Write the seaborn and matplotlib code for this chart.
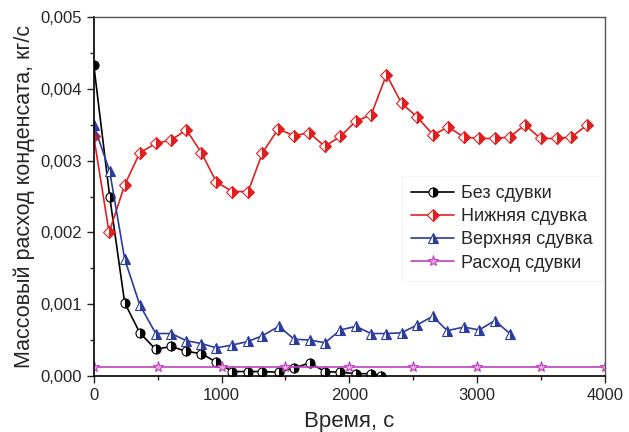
import matplotlib
matplotlib.use("Agg")
import matplotlib.pyplot as plt
import matplotlib.ticker as mticker
import seaborn as sns
import pandas as pd

# time points (s)
t_red = [0, 120, 242, 360, 485, 607, 725, 843, 960, 1085, 1208, 1320, 1442, 1568, 1685,
         1808, 1930, 2050, 2170, 2290, 2408, 2530, 2655, 2773, 2895, 3015, 3137, 3255,
         3373, 3495, 3620, 3737, 3860]
v_red = [3.34, 2.00, 2.66, 3.11, 3.24, 3.29, 3.43, 3.11, 2.70, 2.57, 2.57, 3.11, 3.44, 3.35,
         3.39, 3.20, 3.34, 3.55, 3.64, 4.20, 3.80, 3.61, 3.36, 3.47, 3.33, 3.31, 3.31, 3.33,
         3.50, 3.31, 3.31, 3.33, 3.50]

t_black = [0, 125, 242, 360, 485, 607, 725, 843, 960, 1085, 1208, 1320, 1448, 1568, 1690,
           1808, 1930, 2050, 2170, 2250]
v_black = [4.34, 2.50, 1.02, 0.60, 0.37, 0.41, 0.34, 0.31, 0.19, 0.06, 0.06, 0.06, 0.05, 0.11,
           0.18, 0.06, 0.05, 0.03, 0.03, 0.00]

t_blue = [0, 125, 242, 360, 485, 607, 725, 843, 960, 1085, 1208, 1320, 1448, 1568, 1690,
          1808, 1930, 2050, 2170, 2290, 2408, 2530, 2650, 2765, 2895, 3015, 3137, 3255]
v_blue = [3.50, 2.85, 1.63, 0.99, 0.59, 0.59, 0.49, 0.45, 0.39, 0.43, 0.48, 0.56, 0.69, 0.51,
          0.50, 0.46, 0.64, 0.69, 0.59, 0.59, 0.60, 0.71, 0.83, 0.63, 0.68, 0.64, 0.77, 0.59]

t_mag = [0, 500, 1000, 1500, 2000, 2500, 3000, 3500, 4000]
v_mag = [0.12, 0.12, 0.12, 0.12, 0.12, 0.12, 0.12, 0.12, 0.12]

sns.set_style("ticks")
plt.rcParams['font.family'] = ['Liberation Sans', 'DejaVu Sans']

fig = plt.figure(figsize=(6.29, 4.32), dpi=100)
ax = fig.add_axes([0.149, 0.130, 0.813, 0.830])

series = [
    ("Без сдувки", t_black, v_black, dict(color="black", marker="o", markersize=6.5,
                                           fillstyle="right", markerfacecoloralt="white",
                                           markeredgecolor="black")),
    ("Нижняя сдувка", t_red, v_red, dict(color="#e02020", marker="D", markersize=6.5,
                                         fillstyle="right", markerfacecoloralt="white",
                                         markeredgecolor="#e02020")),
    ("Верхняя сдувка", t_blue, v_blue, dict(color="#2b3c9e", marker="^", markersize=7,
                                            fillstyle="right", markerfacecoloralt="white",
                                            markeredgecolor="#2b3c9e")),
    ("Расход сдувки", t_mag, v_mag, dict(color="#c040c0", marker="*", markersize=8,
                                         markerfacecolor="#e8a8e8",
                                         markeredgecolor="#c040c0")),
]

for name, t, v, style in series:
    df = pd.DataFrame({"t": t, "v": [x / 1000 for x in v]})
    sns.lineplot(data=df, x="t", y="v", ax=ax, label=name, linewidth=1.2,
                 markeredgewidth=0.8, **style)

ax.set_xlim(0, 4000)
ax.set_ylim(0, 0.005)
ax.xaxis.set_major_locator(mticker.MultipleLocator(1000))
ax.xaxis.set_minor_locator(mticker.MultipleLocator(500))
ax.yaxis.set_major_locator(mticker.MultipleLocator(0.001))
ax.yaxis.set_minor_locator(mticker.MultipleLocator(0.0005))
ax.yaxis.set_major_formatter(mticker.FuncFormatter(lambda y, p: f"{y:.3f}".replace(".", ",")))
ax.xaxis.set_major_formatter(mticker.FuncFormatter(lambda x, p: f"{x:.0f}"))
ax.tick_params(which="major", direction="out", length=5, width=1, labelsize=12)
ax.tick_params(which="minor", direction="out", length=3, width=1)

for s in ["left", "bottom"]:
    ax.spines[s].set_color("black")
    ax.spines[s].set_linewidth(1.2)
for s in ["top", "right"]:
    ax.spines[s].set_color("#555555")
    ax.spines[s].set_linewidth(1.0)

ax.set_xlabel("Время, с", fontsize=16, labelpad=6)
ax.set_ylabel("Массовый расход конденсата, кг/с", fontsize=15.5, labelpad=4)

leg = ax.legend(loc="upper left", bbox_to_anchor=(0.585, 0.583), fontsize=13,
                frameon=True, fancybox=False, handlelength=2.4, labelspacing=0.35,
                borderpad=0.5, handletextpad=0.4)
leg.get_frame().set_edgecolor("#f2f2f2")
leg.get_frame().set_linewidth(0.8)

fig.savefig("out.png", dpi=100)
